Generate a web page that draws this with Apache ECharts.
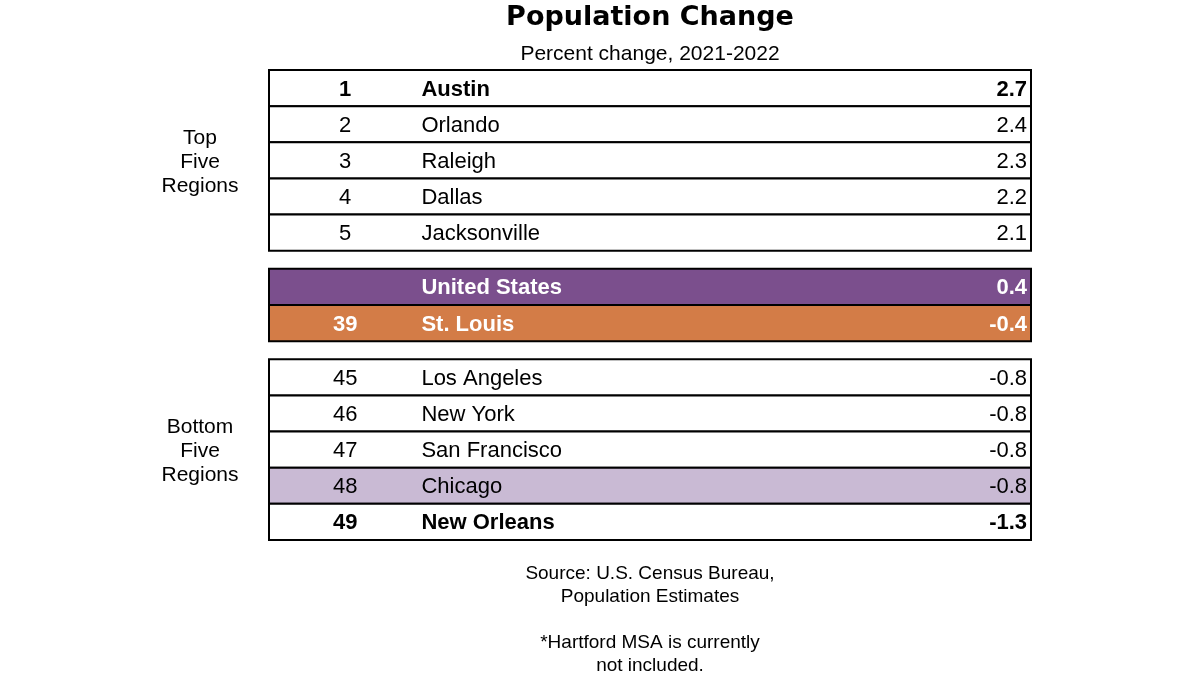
<!DOCTYPE html>
<html>
<head>
<meta charset="utf-8">
<title>Population Change</title>
<script src="https://cdn.jsdelivr.net/npm/echarts@6/dist/echarts.min.js"></script>
<style>
  html, body { margin: 0; padding: 0; background: #fff; }
  #chart { width: 1200px; height: 675px; }
</style>
</head>
<body>
<div id="chart"></div>
<script>
'use strict';

// table data
var ranks = ['1', '2', '3', '4', '5', '', '39', '45', '46', '47', '48', '49'];
var regions = ['Austin', 'Orlando', 'Raleigh', 'Dallas', 'Jacksonville',
    'United States', 'St. Louis',
    'Los Angeles', 'New York', 'San Francisco', 'Chicago', 'New Orleans'];
var changes = [2.7, 2.4, 2.3, 2.2, 2.1, 0.4, -0.4, -0.8, -0.8, -0.8, -0.8, -1.3];
var blockSizes = [5, 2, 5];
var blockLabels = ['Top\nFive\nRegions', '', 'Bottom\nFive\nRegions'];

var FONT = '"Liberation Sans", Arial, sans-serif';
var rowFill = {
    'United States': '#7B4F8D',
    'St. Louis': '#D37C47',
    'Chicago': '#C9BAD4'
};
var boldRows = ['Austin', 'United States', 'St. Louis', 'New Orleans'];
var whiteRows = ['United States', 'St. Louis'];

// slot of each row on the y scale (blocks separated by half a row)
var rows = [];
var slot = 0, idx = 0;
blockSizes.forEach(function(n, b){
    for(var k = 0; k < n; k++){
        rows.push([idx, slot, b, k]);
        idx++;
        slot++;
    }
    slot += 0.5;
});
var totalSlots = slot - 0.5;

var myChart = echarts.init(document.getElementById('chart'));

function renderRow(params, api){
    var i = api.value(0);
    var s = api.value(1);
    var b = api.value(2);
    var k = api.value(3);
    var p0 = api.coord([0, s]);
    var p1 = api.coord([1, s + 1]);
    var y0 = Math.min(p0[1], p1[1]);
    var h = Math.abs(p1[1] - p0[1]);
    var x0 = p0[0], w = p1[0] - p0[0];
    var yc = y0 + h / 2;
    var name = regions[i];
    var bold = boldRows.indexOf(name) >= 0 ? 'bold' : 'normal';
    var color = whiteRows.indexOf(name) >= 0 ? '#ffffff' : '#000000';
    var txt = function(x, str, align){
        return {
            type: 'text',
            style: {
                x: x, y: yc + 1.5, text: str, align: align, verticalAlign: 'middle',
                fill: color, font: bold + ' 22px ' + FONT
            }
        };
    };
    var children = [
        {
            type: 'rect',
            shape: { x: x0, y: y0, width: w, height: h },
            style: { fill: rowFill[name] || '#ffffff', stroke: '#000000', lineWidth: 2 }
        },
        txt(api.coord([0.1, s])[0], ranks[i], 'center'),
        txt(api.coord([0.2, s])[0], name, 'left'),
        txt(api.coord([0.9948, s])[0], changes[i].toFixed(1), 'right')
    ];
    if(k === 0 && blockLabels[b]){
        var pe = api.coord([0, s + blockSizes[b]]);
        children.push({
            type: 'text',
            style: {
                x: x0 - 69, y: (y0 + pe[1]) / 2 + 2, text: blockLabels[b],
                align: 'center', verticalAlign: 'middle', lineHeight: 24,
                fill: '#000000', font: 'normal 21px ' + FONT
            }
        });
    }
    return { type: 'group', children: children };
}

function caption(str, y, font, lh){
    return {
        type: 'text', x: 650, y: y,
        style: { text: str, align: 'center', verticalAlign: 'middle', font: font, lineHeight: lh, fill: '#000000' }
    };
}

var option = {
    animation: false,
    backgroundColor: '#ffffff',
    graphic: [
        caption('Population Change', 18, 'bold 27px "DejaVu Sans", sans-serif', 30),
        caption('Percent change, 2021-2022', 54, 'normal 21px ' + FONT, 24),
        caption('Source: U.S. Census Bureau,\nPopulation Estimates', 585, 'normal 19px ' + FONT, 23),
        caption('*Hartford MSA is currently\nnot included.', 654, 'normal 19px ' + FONT, 23)
    ],
    grid: { left: 269, right: 169, top: 70, bottom: 135 },
    xAxis: { type: 'value', min: 0, max: 1, show: false },
    yAxis: { type: 'value', min: 0, max: totalSlots, inverse: true, show: false },
    series: [{
        type: 'custom',
        renderItem: renderRow,
        data: rows,
        clip: false
    }]
};

myChart.setOption(option);
</script>
</body>
</html>
